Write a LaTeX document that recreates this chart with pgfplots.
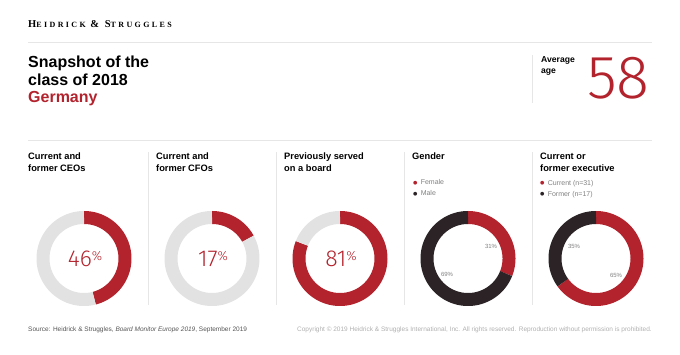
\documentclass[border=0pt]{standalone}
\usepackage{fontspec}
\setmainfont{Liberation Sans}
\newfontfamily\lightfont{Fira Sans Light}
\newfontfamily\hsfont{Liberation Serif}[LetterSpace=30]
\newfontfamily\symfont{DejaVu Sans}
\usepackage{pgfplots}
\usepackage{pgfplotstable}
\pgfplotsset{compat=1.18}
\definecolor{hsred}{HTML}{B3232D}
\definecolor{hsdark}{HTML}{2B2325}
\definecolor{ringgrey}{HTML}{E2E2E2}
\definecolor{rulegrey}{HTML}{E6E6E6}
\definecolor{legendgrey}{HTML}{808080}
\definecolor{footdark}{HTML}{555555}
\definecolor{footlight}{HTML}{B0B0B0}

\pgfplotstableread{
chart red rest
CEO 46 54
CFO 17 83
Board 81 19
Gender 31 69
Exec 65 35
}\snapshot

\newcommand\ring[4]{%
\addplot[#3, line width=13pt, domain=0:#2, samples=120] ({#1+41*sin(x)},{258.5-41*cos(x)});
\addplot[#4, line width=13pt, domain=#2:360, samples=120] ({#1+41*sin(x)},{258.5-41*cos(x)});
}
\newcommand\bigpct[1]{{\lightfont\fontsize{23}{23}\selectfont #1}\raisebox{6pt}{\lightfont\fontsize{13}{13}\selectfont\%}}
\newcommand\bul[1]{\textcolor{#1}{\symfont\fontsize{5}{5}\selectfont\raisebox{0.6pt}{●}}}
\newcommand\hd[3]{\node[anchor=base west, inner sep=0, font=\bfseries\fontsize{9.3}{11}\selectfont] at (#1,160) {#2};
  \node[anchor=base west, inner sep=0, font=\bfseries\fontsize{9.3}{11}\selectfont] at (#1,171.5) {#3};}
\newcommand\sep[1]{\draw[rulegrey, line width=0.8pt] (#1,152) -- (#1,305);}
\newcommand\pctlab[3]{\node[inner sep=0, font=\fontsize{6}{6}\selectfont, text=legendgrey] at (#1,#2) {#3\%};}

\begin{document}%
\begin{tikzpicture}
\pgfplotstablegetelem{0}{red}\of\snapshot\pgfmathsetmacro\aCEO{\pgfplotsretval*3.6}
\pgfplotstablegetelem{1}{red}\of\snapshot\pgfmathsetmacro\aCFO{\pgfplotsretval*3.6}
\pgfplotstablegetelem{2}{red}\of\snapshot\pgfmathsetmacro\aBoard{\pgfplotsretval*3.6}
\pgfplotstablegetelem{3}{red}\of\snapshot\pgfmathsetmacro\aGender{\pgfplotsretval*3.6}
\pgfplotstablegetelem{4}{red}\of\snapshot\pgfmathsetmacro\aExec{\pgfplotsretval*3.6}
\begin{axis}[scale only axis, width=680pt, height=355pt,
  xmin=0, xmax=680, ymin=0, ymax=355, y dir=reverse, hide axis, clip=false]
\coordinate (bl) at (axis cs:0,355);
\coordinate (tr) at (axis cs:680,0);
% rules
\draw[rulegrey, line width=0.8pt] (28,42) -- (652,42);
\draw[rulegrey, line width=0.8pt] (28,140) -- (652,140);
\draw[rulegrey, line width=0.8pt] (532,55) -- (532,103);
\sep{148}\sep{276}\sep{404}\sep{532}
% header
\node[anchor=base west, inner sep=0] at (28,28) {\hsfont\bfseries\fontsize{10.5}{10}\selectfont H\fontsize{8}{8}\selectfont EIDRICK \fontsize{10.5}{10}\selectfont \& S\fontsize{8}{8}\selectfont TRUGGLES};
% title
\node[anchor=base west, inner sep=0, font=\bfseries\fontsize{16}{17}\selectfont] at (28,68) {Snapshot of the};
\node[anchor=base west, inner sep=0, font=\bfseries\fontsize{16}{17}\selectfont] at (28,86) {class of 2018};
\node[anchor=base west, inner sep=0, font=\bfseries\fontsize{16}{17}\selectfont, text=hsred] at (28,103) {Germany};
% average age
\node[anchor=base west, inner sep=0, font=\bfseries\fontsize{8.6}{10}\selectfont] at (541,63) {Average};
\node[anchor=base west, inner sep=0, font=\bfseries\fontsize{8.6}{10}\selectfont] at (541,74) {age};
\node[anchor=base west, inner sep=0, text=hsred] at (587,99) {\lightfont\fontsize{61}{61}\selectfont 58};
% column headings
\hd{28}{Current and}{former CEOs}
\hd{156}{Current and}{former CFOs}
\hd{284}{Previously served}{on a board}
\hd{540}{Current or}{former executive}
\node[anchor=base west, inner sep=0, font=\bfseries\fontsize{9.3}{11}\selectfont] at (412,160) {Gender};
% legends
\node[anchor=base west, inner sep=0, font=\fontsize{7}{8}\selectfont, text=legendgrey] at (413,185) {\bul{hsred}\hspace{3.2pt}Female};
\node[anchor=base west, inner sep=0, font=\fontsize{7}{8}\selectfont, text=legendgrey] at (413,196) {\bul{hsdark}\hspace{3.2pt}Male};
\node[anchor=base west, inner sep=0, font=\fontsize{7}{8}\selectfont, text=legendgrey] at (540,185.5) {\bul{hsred}\hspace{3.2pt}Current (n=31)};
\node[anchor=base west, inner sep=0, font=\fontsize{7}{8}\selectfont, text=legendgrey] at (540,196.5) {\bul{hsdark}\hspace{3.2pt}Former (n=17)};
% donuts
\ring{84}{\aCEO}{hsred}{ringgrey}
\ring{212}{\aCFO}{hsred}{ringgrey}
\ring{340}{\aBoard}{hsred}{ringgrey}
\ring{468}{\aGender}{hsred}{hsdark}
\ring{596}{\aExec}{hsred}{hsdark}
% centre values
\node[anchor=base, inner sep=0, text=hsred] at (85,267) {\bigpct{46}};
\node[anchor=base, inner sep=0, text=hsred] at (213,267) {\bigpct{17}};
\node[anchor=base, inner sep=0, text=hsred] at (341,267) {\bigpct{81}};
% small labels
\pctlab{491}{246}{31}
\pctlab{447}{274}{69}
\pctlab{574}{246}{35}
\pctlab{616}{275}{65}
% footer
\node[anchor=base west, inner sep=0, font=\fontsize{6.5}{7}\selectfont, text=footdark] at (28,332) {Source: Heidrick \& Struggles, \textit{Board Monitor Europe 2019}, September 2019};
\node[anchor=base east, inner sep=0, font=\fontsize{6.5}{7}\selectfont, text=footlight] at (652,332) {Copyright © 2019 Heidrick \& Struggles International, Inc. All rights reserved. Reproduction without permission is prohibited.};
\end{axis}
\pgfresetboundingbox
\useasboundingbox (bl) rectangle (tr);
\end{tikzpicture}%
\end{document}
